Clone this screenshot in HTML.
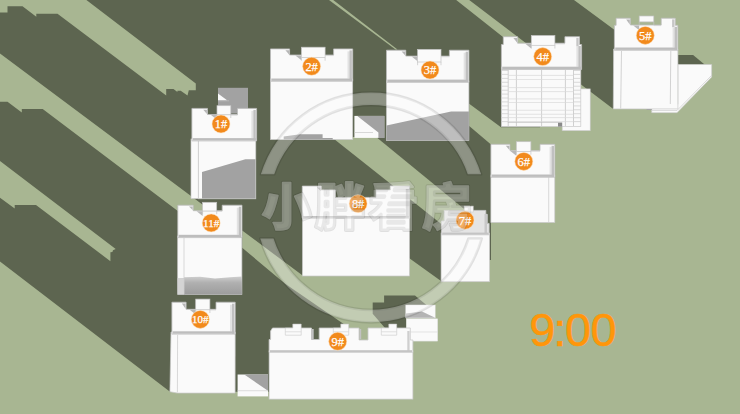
<!DOCTYPE html>
<html lang="zh"><head><meta charset="utf-8"><title>9:00</title>
<style>html,body{margin:0;padding:0;background:#5d6550;overflow:hidden}svg{display:block}</style></head>
<body><svg width="740" height="414" viewBox="0 0 740 414">
<rect width="740" height="414" fill="#5d6550"/>
<g id="ground">
<polygon points="0.0,0.0 86.4,0.0 195.8,83.5 195.8,90.2 188.8,90.2 187.5,95.6 180.7,90.7 177.4,90.7 177.4,92.0 173.5,88.9 166.2,88.9 166.2,95.4 57.5,13.7 36.3,13.7 36.3,16.7 22.5,6.2 7.5,6.2 7.5,12.5 0.0,12.5" fill="#a8b692" />
<polygon points="0.0,53.4 192.0,196.8 203.0,205.0 203.0,215.0 183.0,215.0 177.8,211.0 42.7,108.9 21.8,108.9 21.8,112.6 7.5,101.7 0.0,101.7" fill="#a8b692" />
<polygon points="0.0,160.9 115.7,249.1 113.0,250.3 112.4,252.0 110.4,252.3 110.4,261.2 36.0,205.0 14.7,205.0 14.7,208.6 0.0,197.8" fill="#a8b692" />
<polygon points="329.0,0.0 333.2,0.0 397.5,49.4 395.5,49.4" fill="#a8b692" />
<polygon points="456.2,0.0 469.2,0.0 535.0,50.0 515.0,50.0 503.0,37.0" fill="#a8b692" />
<polygon points="331.5,137.0 376.2,137.0 466.0,210.5 466.0,225.0 441.0,223.7" fill="#a8b692" />
<polygon points="574.0,0.0 740.0,0.0 740.0,414.0 0.0,414.0 0.0,261.5 170.0,391.7 300.0,391.7 343.7,330.0 343.7,323.9 284.8,283.6 242.2,247.7 242.2,230.4 302.0,275.1 302.7,270.0 409.0,270.0 409.0,258.0 441.0,281.0 441.0,260.0 491.0,260.0 491.0,144.4 469.2,125.9 469.2,103.8 501.0,127.2 540.0,127.2 540.0,100.0 581.0,84.5 613.3,108.9 616.0,100.0 616.0,31.1" fill="#a8b692" />
<polygon points="372.7,302.5 384.1,302.5 384.1,295.4 415.0,295.4 427.0,305.5 406.0,305.5 406.0,328.0 385.0,328.0 372.7,313.7" fill="#5d6550" />
<polygon points="677.9,55.1 693.1,55.1 704.6,64.5 677.9,64.5" fill="#5d6550" />
</g>
<g id="buildings">
<rect x="218.0" y="87.8" width="30.0" height="25.7" fill="#a2a2a2" />
<polygon points="218.0,93.5 227.1,100.3 218.0,100.3" fill="#fafafa" />
<line x1="218.0" y1="100.8" x2="229.0" y2="100.8" stroke="#c0c0c0" stroke-width="0.7" />
<rect x="191.0" y="139.0" width="7.3" height="59.6" fill="#fafafa" stroke="#c9c9c9" stroke-width="0.7"/>
<rect x="198.3" y="139.0" width="57.5" height="59.8" fill="#fafafa" stroke="#c9c9c9" stroke-width="0.7"/>
<polygon points="202.0,172.0 245.4,159.2 255.5,159.2 255.5,198.6 202.0,198.6" fill="#a2a2a2" />
<polygon points="191.9,140.9 191.9,108.4 207.5,108.4 207.5,114.5 237.5,114.5 237.5,108.4 256.6,108.4 256.6,140.9" fill="#fafafa" stroke="#bdbdbd" stroke-width="0.8"/>
<rect x="251.4" y="110.9" width="2.2" height="27.2" fill="#e2e2e2" />
<rect x="253.4" y="109.9" width="2.4" height="30.6" fill="#c0c0c0" />
<rect x="192.7" y="138.1" width="63.1" height="2.4" fill="#bdbdbd" />
<polygon points="203.3,109.8 206.9,109.8 206.9,113.9" fill="#b6b6b6" />
<polygon points="211.0,115.0 217.0,115.0 217.0,119.7" fill="#b8b8b8" />
<rect x="217.0" y="105.7" width="13.8" height="9.1" fill="#fafafa" stroke="#c4c4c4" stroke-width="0.7"/>
<line x1="217.0" y1="114.8" x2="217.0" y2="118.0" stroke="#c4c4c4" stroke-width="0.7" />
<line x1="230.8" y1="114.8" x2="230.8" y2="118.0" stroke="#c4c4c4" stroke-width="0.7" />
<line x1="237.5" y1="115.1" x2="230.8" y2="115.1" stroke="#cfcfcf" stroke-width="0.8" />
<rect x="270.5" y="79.0" width="82.2" height="60.6" fill="#fafafa" stroke="#c9c9c9" stroke-width="0.7"/>
<polygon points="283.7,139.6 283.7,136.5 300.0,134.2 322.6,134.2 322.6,138.0 332.7,138.0 332.7,139.6" fill="#a2a2a2" />
<polygon points="270.5,81.3 270.5,48.9 289.6,48.9 289.6,55.0 333.6,55.0 333.6,48.9 352.7,48.9 352.7,81.3" fill="#fafafa" stroke="#bdbdbd" stroke-width="0.8"/>
<rect x="347.5" y="51.4" width="2.2" height="27.1" fill="#e2e2e2" />
<rect x="349.5" y="50.4" width="2.4" height="30.5" fill="#c0c0c0" />
<rect x="271.3" y="78.5" width="80.6" height="2.4" fill="#bdbdbd" />
<polygon points="285.4,50.3 289.0,50.3 289.0,54.4" fill="#b6b6b6" />
<polygon points="295.4,55.5 301.4,55.5 301.4,60.2" fill="#b8b8b8" />
<rect x="301.4" y="47.2" width="23.7" height="10.3" fill="#fafafa" stroke="#c4c4c4" stroke-width="0.7"/>
<line x1="301.4" y1="57.5" x2="301.4" y2="60.7" stroke="#c4c4c4" stroke-width="0.7" />
<line x1="325.1" y1="57.5" x2="325.1" y2="60.7" stroke="#c4c4c4" stroke-width="0.7" />
<line x1="333.6" y1="55.6" x2="325.1" y2="55.6" stroke="#cfcfcf" stroke-width="0.8" />
<rect x="354.4" y="115.9" width="29.9" height="22.0" fill="#fafafa" />
<polygon points="357.3,115.9 384.3,115.9 384.3,137.9 378.4,137.9 378.4,132.5" fill="#a2a2a2" />
<line x1="354.4" y1="132.5" x2="373.0" y2="132.5" stroke="#c8c8c8" stroke-width="0.7" />
<rect x="386.5" y="81.0" width="82.4" height="59.6" fill="#fafafa" stroke="#c9c9c9" stroke-width="0.7"/>
<polygon points="386.5,125.4 451.1,111.4 468.9,111.4 468.9,140.6 386.5,140.6" fill="#a2a2a2" />
<polygon points="386.5,82.4 386.5,50.2 405.8,50.2 405.8,56.1 449.4,56.1 449.4,50.2 468.9,50.2 468.9,82.4" fill="#fafafa" stroke="#bdbdbd" stroke-width="0.8"/>
<rect x="463.7" y="52.7" width="2.2" height="26.9" fill="#e2e2e2" />
<rect x="465.7" y="51.7" width="2.4" height="30.3" fill="#c0c0c0" />
<rect x="387.3" y="79.6" width="80.8" height="2.4" fill="#bdbdbd" />
<polygon points="401.6,51.6 405.2,51.6 405.2,55.5" fill="#b6b6b6" />
<polygon points="411.6,56.6 417.6,56.6 417.6,61.3" fill="#b8b8b8" />
<rect x="417.6" y="49.4" width="23.4" height="12.6" fill="#fafafa" stroke="#c4c4c4" stroke-width="0.7"/>
<line x1="417.6" y1="62.0" x2="417.6" y2="65.2" stroke="#c4c4c4" stroke-width="0.7" />
<line x1="441.0" y1="62.0" x2="441.0" y2="65.2" stroke="#c4c4c4" stroke-width="0.7" />
<line x1="449.4" y1="56.7" x2="441.0" y2="56.7" stroke="#cfcfcf" stroke-width="0.8" />
<rect x="562.2" y="88.9" width="28.0" height="41.8" fill="#fafafa" stroke="#c9c9c9" stroke-width="0.6"/>
<rect x="501.4" y="67.0" width="79.4" height="59.6" fill="#fafafa" stroke="#c9c9c9" stroke-width="0.7"/>
<rect x="558.0" y="122.5" width="4.2" height="4.1" fill="#8a8a8a" />
<line x1="508.2" y1="70.0" x2="508.2" y2="126.0" stroke="#b4b4b4" stroke-width="0.6" />
<line x1="516.4" y1="70.0" x2="516.4" y2="126.0" stroke="#b4b4b4" stroke-width="0.6" />
<line x1="541.6" y1="70.0" x2="541.6" y2="126.0" stroke="#b4b4b4" stroke-width="0.6" />
<line x1="565.4" y1="70.0" x2="565.4" y2="126.0" stroke="#b4b4b4" stroke-width="0.6" />
<line x1="573.5" y1="70.0" x2="573.5" y2="126.0" stroke="#b4b4b4" stroke-width="0.6" />
<line x1="501.4" y1="70.5" x2="508.2" y2="70.5" stroke="#cccccc" stroke-width="0.7" />
<line x1="573.5" y1="70.5" x2="580.8" y2="70.5" stroke="#cccccc" stroke-width="0.7" />
<line x1="501.4" y1="74.4" x2="508.2" y2="74.4" stroke="#cccccc" stroke-width="0.7" />
<line x1="573.5" y1="74.4" x2="580.8" y2="74.4" stroke="#cccccc" stroke-width="0.7" />
<line x1="501.4" y1="78.4" x2="508.2" y2="78.4" stroke="#cccccc" stroke-width="0.7" />
<line x1="573.5" y1="78.4" x2="580.8" y2="78.4" stroke="#cccccc" stroke-width="0.7" />
<line x1="501.4" y1="82.3" x2="508.2" y2="82.3" stroke="#cccccc" stroke-width="0.7" />
<line x1="573.5" y1="82.3" x2="580.8" y2="82.3" stroke="#cccccc" stroke-width="0.7" />
<line x1="501.4" y1="86.2" x2="508.2" y2="86.2" stroke="#cccccc" stroke-width="0.7" />
<line x1="573.5" y1="86.2" x2="580.8" y2="86.2" stroke="#cccccc" stroke-width="0.7" />
<line x1="501.4" y1="90.2" x2="508.2" y2="90.2" stroke="#cccccc" stroke-width="0.7" />
<line x1="573.5" y1="90.2" x2="580.8" y2="90.2" stroke="#cccccc" stroke-width="0.7" />
<line x1="501.4" y1="94.1" x2="508.2" y2="94.1" stroke="#cccccc" stroke-width="0.7" />
<line x1="573.5" y1="94.1" x2="580.8" y2="94.1" stroke="#cccccc" stroke-width="0.7" />
<line x1="501.4" y1="98.0" x2="508.2" y2="98.0" stroke="#cccccc" stroke-width="0.7" />
<line x1="573.5" y1="98.0" x2="580.8" y2="98.0" stroke="#cccccc" stroke-width="0.7" />
<line x1="501.4" y1="101.9" x2="508.2" y2="101.9" stroke="#cccccc" stroke-width="0.7" />
<line x1="573.5" y1="101.9" x2="580.8" y2="101.9" stroke="#cccccc" stroke-width="0.7" />
<line x1="501.4" y1="105.9" x2="508.2" y2="105.9" stroke="#cccccc" stroke-width="0.7" />
<line x1="573.5" y1="105.9" x2="580.8" y2="105.9" stroke="#cccccc" stroke-width="0.7" />
<line x1="501.4" y1="109.8" x2="508.2" y2="109.8" stroke="#cccccc" stroke-width="0.7" />
<line x1="573.5" y1="109.8" x2="580.8" y2="109.8" stroke="#cccccc" stroke-width="0.7" />
<line x1="501.4" y1="113.7" x2="508.2" y2="113.7" stroke="#cccccc" stroke-width="0.7" />
<line x1="573.5" y1="113.7" x2="580.8" y2="113.7" stroke="#cccccc" stroke-width="0.7" />
<line x1="501.4" y1="117.7" x2="508.2" y2="117.7" stroke="#cccccc" stroke-width="0.7" />
<line x1="573.5" y1="117.7" x2="580.8" y2="117.7" stroke="#cccccc" stroke-width="0.7" />
<line x1="501.4" y1="121.6" x2="508.2" y2="121.6" stroke="#cccccc" stroke-width="0.7" />
<line x1="573.5" y1="121.6" x2="580.8" y2="121.6" stroke="#cccccc" stroke-width="0.7" />
<line x1="508.2" y1="75.4" x2="573.5" y2="75.4" stroke="#dadada" stroke-width="0.7" />
<line x1="508.2" y1="79.5" x2="573.5" y2="79.5" stroke="#dadada" stroke-width="0.7" />
<line x1="508.2" y1="87.6" x2="573.5" y2="87.6" stroke="#dadada" stroke-width="0.7" />
<line x1="508.2" y1="91.6" x2="573.5" y2="91.6" stroke="#dadada" stroke-width="0.7" />
<line x1="508.2" y1="98.9" x2="573.5" y2="98.9" stroke="#dadada" stroke-width="0.7" />
<line x1="508.2" y1="102.5" x2="573.5" y2="102.5" stroke="#dadada" stroke-width="0.7" />
<line x1="508.2" y1="110.3" x2="573.5" y2="110.3" stroke="#dadada" stroke-width="0.7" />
<line x1="508.2" y1="114.3" x2="573.5" y2="114.3" stroke="#dadada" stroke-width="0.7" />
<line x1="508.2" y1="117.6" x2="573.5" y2="117.6" stroke="#dadada" stroke-width="0.7" />
<line x1="508.2" y1="121.6" x2="573.5" y2="121.6" stroke="#dadada" stroke-width="0.7" />
<line x1="507.8" y1="122.4" x2="558.0" y2="122.4" stroke="#c0c0c0" stroke-width="0.7" />
<polygon points="501.4,69.5 501.4,44.5 503.3,44.5 503.3,36.7 517.6,36.7 517.6,43.2 564.9,43.2 564.9,36.7 579.5,36.7 579.5,44.5 581.6,44.5 581.6,69.5" fill="#fafafa" stroke="#bdbdbd" stroke-width="0.8"/>
<rect x="576.4" y="47.0" width="2.2" height="19.7" fill="#e2e2e2" />
<rect x="578.4" y="46.0" width="2.4" height="23.1" fill="#c0c0c0" />
<rect x="576.3" y="37.9" width="2.4" height="8.6" fill="#c6c6c6" />
<rect x="502.2" y="66.7" width="78.6" height="2.4" fill="#bdbdbd" />
<polygon points="513.4,38.1 517.0,38.1 517.0,42.6" fill="#b6b6b6" />
<polygon points="525.3,43.7 531.3,43.7 531.3,48.4" fill="#b8b8b8" />
<rect x="531.3" y="35.5" width="23.6" height="9.8" fill="#fafafa" stroke="#c4c4c4" stroke-width="0.7"/>
<line x1="531.3" y1="45.3" x2="531.3" y2="48.5" stroke="#c4c4c4" stroke-width="0.7" />
<line x1="554.9" y1="45.3" x2="554.9" y2="48.5" stroke="#c4c4c4" stroke-width="0.7" />
<line x1="564.9" y1="43.8" x2="554.9" y2="43.8" stroke="#cfcfcf" stroke-width="0.8" />
<polygon points="677.9,64.5 711.7,64.5 711.7,77.1 677.0,112.7 651.7,112.7 651.7,104.2 677.9,104.2" fill="#fafafa" stroke="#c9c9c9" stroke-width="0.6"/>
<line x1="711.7" y1="75.3" x2="677.0" y2="110.5" stroke="#cccccc" stroke-width="0.7" />
<line x1="651.7" y1="110.5" x2="677.0" y2="110.5" stroke="#d0d0d0" stroke-width="0.7" />
<rect x="646.6" y="105.0" width="5.1" height="5.0" fill="#9a9a9a" />
<polygon points="613.6,49.0 677.9,49.0 677.9,108.9 613.3,108.9" fill="#fafafa" stroke="#c9c9c9" stroke-width="0.7"/>
<line x1="621.5" y1="51.0" x2="620.7" y2="108.5" stroke="#c8c8c8" stroke-width="0.8" />
<line x1="670.8" y1="51.0" x2="670.3" y2="104.0" stroke="#c8c8c8" stroke-width="0.8" />
<polygon points="614.4,50.3 614.4,25.3 616.1,25.3 616.1,18.2 630.4,18.2 630.4,25.0 661.2,25.0 661.2,18.2 675.3,18.2 675.3,25.3 677.8,25.3 677.8,50.3" fill="#fafafa" stroke="#bdbdbd" stroke-width="0.8"/>
<rect x="672.6" y="27.8" width="2.2" height="19.7" fill="#e2e2e2" />
<rect x="674.6" y="26.8" width="2.4" height="23.1" fill="#c0c0c0" />
<rect x="672.1" y="19.4" width="2.4" height="7.9" fill="#c6c6c6" />
<rect x="615.2" y="47.5" width="61.8" height="2.4" fill="#bdbdbd" />
<polygon points="626.2,19.6 629.8,19.6 629.8,24.4" fill="#b6b6b6" />
<polygon points="633.2,25.5 639.2,25.5 639.2,30.2" fill="#b8b8b8" />
<rect x="639.2" y="16.0" width="14.6" height="5.9" fill="#fafafa" stroke="#c4c4c4" stroke-width="0.7"/>
<line x1="639.2" y1="21.9" x2="639.2" y2="25.1" stroke="#c4c4c4" stroke-width="0.7" />
<line x1="653.8" y1="21.9" x2="653.8" y2="25.1" stroke="#c4c4c4" stroke-width="0.7" />
<line x1="661.2" y1="25.6" x2="653.8" y2="25.6" stroke="#cfcfcf" stroke-width="0.8" />
<rect x="490.9" y="175.0" width="63.9" height="47.5" fill="#fafafa" stroke="#c9c9c9" stroke-width="0.7"/>
<line x1="548.7" y1="177.0" x2="548.7" y2="222.0" stroke="#cfcfcf" stroke-width="0.8" />
<polygon points="490.9,177.3 490.9,144.3 510.0,144.3 510.0,150.6 540.0,150.6 540.0,144.3 554.8,144.3 554.8,177.3" fill="#fafafa" stroke="#bdbdbd" stroke-width="0.8"/>
<rect x="549.6" y="146.8" width="2.2" height="27.7" fill="#e2e2e2" />
<rect x="551.6" y="145.8" width="2.4" height="31.1" fill="#c0c0c0" />
<rect x="491.7" y="174.5" width="62.3" height="2.4" fill="#bdbdbd" />
<polygon points="505.8,145.7 509.4,145.7 509.4,150.0" fill="#b6b6b6" />
<polygon points="510.3,151.1 516.3,151.1 516.3,155.8" fill="#b8b8b8" />
<rect x="516.3" y="141.7" width="14.6" height="9.8" fill="#fafafa" stroke="#c4c4c4" stroke-width="0.7"/>
<line x1="516.3" y1="151.5" x2="516.3" y2="154.7" stroke="#c4c4c4" stroke-width="0.7" />
<line x1="530.9" y1="151.5" x2="530.9" y2="154.7" stroke="#c4c4c4" stroke-width="0.7" />
<line x1="540.0" y1="151.2" x2="530.9" y2="151.2" stroke="#cfcfcf" stroke-width="0.8" />
<rect x="302.5" y="217.0" width="106.9" height="59.0" fill="#fafafa" stroke="#c9c9c9" stroke-width="0.7"/>
<polygon points="302.3,218.2 302.3,186.1 321.2,186.1 321.2,189.9 335.4,189.9 335.4,197.4 376.0,197.4 376.0,189.9 390.3,189.9 390.3,186.1 409.6,186.1 409.6,218.2" fill="#fafafa" stroke="#c9c9c9" stroke-width="0.8"/>
<rect x="405.8" y="189.0" width="3.0" height="28.5" fill="#cfcfcf" />
<rect x="303.3" y="216.0" width="105.5" height="1.8" fill="#c4c4c4" />
<polygon points="317.0,187.6 320.6,187.6 320.6,191.0" fill="#bdbdbd" />
<rect x="441.1" y="233.0" width="48.5" height="48.7" fill="#fafafa" stroke="#c9c9c9" stroke-width="0.7"/>
<polygon points="441.5,234.8 441.5,221.0 444.2,221.0 444.2,210.4 485.8,210.4 485.8,214.3 487.3,214.3 487.3,223.4 489.1,223.4 489.1,234.8" fill="#e4e4e4" stroke="#c9c9c9" stroke-width="0.8"/>
<rect x="484.5" y="214.0" width="2.5" height="20.0" fill="#c8c8c8" />
<rect x="442.3" y="232.6" width="46.2" height="1.9" fill="#c4c4c4" />
<rect x="464.2" y="206.1" width="9.0" height="5.9" fill="#fafafa" stroke="#c9c9c9" stroke-width="0.6"/>
<rect x="177.7" y="236.0" width="64.2" height="58.5" fill="#fafafa" stroke="#c9c9c9" stroke-width="0.7"/>
<defs><linearGradient id="g11" x1="0" y1="0" x2="0" y2="1"><stop offset="0" stop-color="#cfcfcf"/><stop offset="0.35" stop-color="#b0b0b0"/><stop offset="1" stop-color="#9c9c9c"/></linearGradient></defs>
<polygon points="177.7,278.5 184.0,278.0 184.0,277.2 200.0,276.8 215.0,278.4 230.0,277.2 241.9,276.4 241.9,294.5 177.7,294.5" fill="url(#g11)" />
<rect x="177.7" y="278.3" width="6.3" height="16.2" fill="#d4d4d4" />
<line x1="184.0" y1="238.0" x2="184.0" y2="294.0" stroke="#cfcfcf" stroke-width="0.8" />
<polygon points="177.8,237.6 177.8,205.2 193.2,205.2 193.2,210.7 222.2,210.7 222.2,205.2 242.0,205.2 242.0,237.6" fill="#fafafa" stroke="#bdbdbd" stroke-width="0.8"/>
<rect x="236.8" y="207.7" width="2.2" height="27.1" fill="#e2e2e2" />
<rect x="238.8" y="206.7" width="2.4" height="30.5" fill="#c0c0c0" />
<rect x="178.6" y="234.8" width="62.6" height="2.4" fill="#bdbdbd" />
<polygon points="189.0,206.6 192.6,206.6 192.6,210.1" fill="#b6b6b6" />
<polygon points="196.6,211.2 202.6,211.2 202.6,215.9" fill="#b8b8b8" />
<rect x="202.6" y="202.3" width="14.1" height="8.7" fill="#fafafa" stroke="#c4c4c4" stroke-width="0.7"/>
<line x1="202.6" y1="211.0" x2="202.6" y2="214.2" stroke="#c4c4c4" stroke-width="0.7" />
<line x1="216.7" y1="211.0" x2="216.7" y2="214.2" stroke="#c4c4c4" stroke-width="0.7" />
<line x1="222.2" y1="211.3" x2="216.7" y2="211.3" stroke="#cfcfcf" stroke-width="0.8" />
<polygon points="171.0,332.0 235.2,332.0 235.1,393.1 177.4,393.1 169.9,391.7" fill="#fafafa" stroke="#c9c9c9" stroke-width="0.7"/>
<line x1="177.6" y1="335.0" x2="177.4" y2="392.5" stroke="#cfcfcf" stroke-width="0.8" />
<polygon points="171.9,334.1 171.9,302.2 186.1,302.2 186.1,309.3 216.0,309.3 216.0,302.2 235.2,302.2 235.2,334.1" fill="#fafafa" stroke="#bdbdbd" stroke-width="0.8"/>
<rect x="230.0" y="304.7" width="2.2" height="26.6" fill="#e2e2e2" />
<rect x="232.0" y="303.7" width="2.4" height="30.0" fill="#c0c0c0" />
<rect x="172.7" y="331.3" width="61.7" height="2.4" fill="#bdbdbd" />
<polygon points="181.9,303.6 185.5,303.6 185.5,308.7" fill="#b6b6b6" />
<polygon points="189.7,309.8 195.7,309.8 195.7,314.5" fill="#b8b8b8" />
<rect x="195.7" y="299.1" width="14.2" height="10.7" fill="#fafafa" stroke="#c4c4c4" stroke-width="0.7"/>
<line x1="195.7" y1="309.8" x2="195.7" y2="313.0" stroke="#c4c4c4" stroke-width="0.7" />
<line x1="209.9" y1="309.8" x2="209.9" y2="313.0" stroke="#c4c4c4" stroke-width="0.7" />
<line x1="216.0" y1="309.9" x2="209.9" y2="309.9" stroke="#cfcfcf" stroke-width="0.8" />
<rect x="237.6" y="374.5" width="30.4" height="21.9" fill="#fafafa" />
<polygon points="244.3,374.5 268.0,374.5 268.0,390.7" fill="#a2a2a2" />
<line x1="237.6" y1="390.7" x2="268.0" y2="390.7" stroke="#d0d0d0" stroke-width="0.7" />
<rect x="405.8" y="305.0" width="29.4" height="13.0" fill="#fafafa" stroke="#dddddd" stroke-width="0.5"/>
<polygon points="405.8,313.5 422.0,311.5 435.2,317.8 405.8,317.8" fill="#b4b4b4" />
<rect x="406.4" y="318.8" width="31.3" height="22.3" fill="#fafafa" stroke="#dddddd" stroke-width="0.5"/>
<line x1="406.4" y1="332.0" x2="437.7" y2="332.0" stroke="#d8d8d8" stroke-width="0.7" />
<rect x="269.1" y="351.0" width="143.8" height="48.1" fill="#fafafa" stroke="#c9c9c9" stroke-width="0.7"/>
<polygon points="269.1,352.4 269.1,339.5 270.6,339.5 270.6,331.0 272.5,328.0 311.5,328.0 311.5,339.5 319.2,339.5 319.2,328.0 359.0,328.0 359.0,340.0 368.0,340.0 368.0,328.0 410.3,328.0 410.3,340.0 412.9,340.0 412.9,352.4" fill="#fafafa" stroke="#c9c9c9" stroke-width="0.8"/>
<rect x="407.3" y="331.0" width="2.3" height="20.5" fill="#cfcfcf" />
<rect x="270.0" y="350.2" width="142.0" height="1.9" fill="#c4c4c4" />
<polygon points="285.3,335.2 285.3,328.0 292.8,328.0 292.8,324.1 301.2,324.1 301.2,335.2" fill="#fafafa" stroke="#c9c9c9" stroke-width="0.6"/>
<line x1="285.3" y1="331.8" x2="301.2" y2="331.8" stroke="#d4d4d4" stroke-width="0.7" />
<polygon points="333.3,335.2 333.3,328.0 340.8,328.0 340.8,324.1 348.7,324.1 348.7,335.2" fill="#fafafa" stroke="#c9c9c9" stroke-width="0.6"/>
<line x1="333.3" y1="331.8" x2="348.7" y2="331.8" stroke="#d4d4d4" stroke-width="0.7" />
<polygon points="381.3,335.2 381.3,328.0 388.8,328.0 388.8,324.1 396.7,324.1 396.7,335.2" fill="#fafafa" stroke="#c9c9c9" stroke-width="0.6"/>
<line x1="381.3" y1="331.8" x2="396.7" y2="331.8" stroke="#d4d4d4" stroke-width="0.7" />
<rect x="311.8" y="329.0" width="1.9" height="10.2" fill="#c2c2c2" />
<rect x="359.3" y="329.0" width="1.9" height="10.2" fill="#c2c2c2" />
</g>
<g id="labels">
<circle cx="221.0" cy="124.0" r="9.0" fill="#f28a1c" stroke="rgba(255,225,190,0.5)" stroke-width="1"/>
<text x="221.0" y="128.4" text-anchor="middle" font-family="'Liberation Serif',serif" font-size="13.2" fill="#fff" stroke="#fff" stroke-width="0.25" textLength="12.4" lengthAdjust="spacingAndGlyphs">1#</text>
<circle cx="311.6" cy="66.3" r="9.0" fill="#f28a1c" stroke="rgba(255,225,190,0.5)" stroke-width="1"/>
<text x="311.6" y="70.7" text-anchor="middle" font-family="'Liberation Serif',serif" font-size="13.2" fill="#fff" stroke="#fff" stroke-width="0.25" textLength="12.4" lengthAdjust="spacingAndGlyphs">2#</text>
<circle cx="430.0" cy="70.0" r="9.0" fill="#f28a1c" stroke="rgba(255,225,190,0.5)" stroke-width="1"/>
<text x="430.0" y="74.4" text-anchor="middle" font-family="'Liberation Serif',serif" font-size="13.2" fill="#fff" stroke="#fff" stroke-width="0.25" textLength="12.4" lengthAdjust="spacingAndGlyphs">3#</text>
<circle cx="542.7" cy="56.6" r="9.0" fill="#f28a1c" stroke="rgba(255,225,190,0.5)" stroke-width="1"/>
<text x="542.7" y="61.0" text-anchor="middle" font-family="'Liberation Serif',serif" font-size="13.2" fill="#fff" stroke="#fff" stroke-width="0.25" textLength="12.4" lengthAdjust="spacingAndGlyphs">4#</text>
<circle cx="645.3" cy="35.4" r="9.0" fill="#f28a1c" stroke="rgba(255,225,190,0.5)" stroke-width="1"/>
<text x="645.3" y="39.8" text-anchor="middle" font-family="'Liberation Serif',serif" font-size="13.2" fill="#fff" stroke="#fff" stroke-width="0.25" textLength="12.4" lengthAdjust="spacingAndGlyphs">5#</text>
<circle cx="523.8" cy="161.4" r="9.0" fill="#f28a1c" stroke="rgba(255,225,190,0.5)" stroke-width="1"/>
<text x="523.8" y="165.8" text-anchor="middle" font-family="'Liberation Serif',serif" font-size="13.2" fill="#fff" stroke="#fff" stroke-width="0.25" textLength="12.4" lengthAdjust="spacingAndGlyphs">6#</text>
<circle cx="358.1" cy="203.7" r="9.0" fill="#f28a1c" stroke="rgba(255,225,190,0.5)" stroke-width="1"/>
<text x="358.1" y="208.1" text-anchor="middle" font-family="'Liberation Serif',serif" font-size="13.2" fill="#fff" stroke="#fff" stroke-width="0.25" textLength="12.4" lengthAdjust="spacingAndGlyphs">8#</text>
<circle cx="465.0" cy="220.2" r="9.0" fill="#f28a1c" stroke="rgba(255,225,190,0.5)" stroke-width="1"/>
<text x="465.0" y="224.6" text-anchor="middle" font-family="'Liberation Serif',serif" font-size="13.2" fill="#fff" stroke="#fff" stroke-width="0.25" textLength="12.4" lengthAdjust="spacingAndGlyphs">7#</text>
<circle cx="211.2" cy="222.9" r="9.0" fill="#f28a1c" stroke="rgba(255,225,190,0.5)" stroke-width="1"/>
<text x="211.2" y="226.6" text-anchor="middle" font-family="'Liberation Serif',serif" font-size="11" fill="#fff" stroke="#fff" stroke-width="0.25" textLength="16.4" lengthAdjust="spacingAndGlyphs">11#</text>
<circle cx="200.3" cy="319.4" r="9.0" fill="#f28a1c" stroke="rgba(255,225,190,0.5)" stroke-width="1"/>
<text x="200.3" y="323.1" text-anchor="middle" font-family="'Liberation Serif',serif" font-size="11" fill="#fff" stroke="#fff" stroke-width="0.25" textLength="16.4" lengthAdjust="spacingAndGlyphs">10#</text>
<circle cx="337.7" cy="341.3" r="9.0" fill="#f28a1c" stroke="rgba(255,225,190,0.5)" stroke-width="1"/>
<text x="337.7" y="345.7" text-anchor="middle" font-family="'Liberation Serif',serif" font-size="13.2" fill="#fff" stroke="#fff" stroke-width="0.25" textLength="12.4" lengthAdjust="spacingAndGlyphs">9#</text>
</g>
<g font-family="'Liberation Sans',sans-serif" font-size="46.8" fill="#ff960a" stroke="#ff960a" stroke-width="0.5"><text x="529.2" y="345.9">9</text><text x="553.3" y="345.9">:</text><text x="565" y="345.9">0</text><text x="590.6" y="345.9">0</text></g>
<g id="wm-edge" opacity="0.10" fill="none" stroke="#000" stroke-linejoin="round">
<path d="M260.9,174.3 A115,115 0 0 1 481.1,174.3 L467.8,174.3 A102.3,102.3 0 0 0 274.2,174.3 Z M260.3,238.5 A115,115 0 0 0 481.7,238.5 L468.5,238.5 A102.3,102.3 0 0 1 273.5,238.5 Z" stroke-width="2.6"/>
<text x="261.5" y="224.5" font-family="'Liberation Sans','Noto Sans CJK SC',sans-serif" font-weight="900" font-size="50" stroke-width="3.4">小</text><text x="315" y="224.5" font-family="'Liberation Sans','Noto Sans CJK SC',sans-serif" font-weight="900" font-size="50" stroke-width="3.4">胖</text><text x="368.5" y="224.5" font-family="'Liberation Sans','Noto Sans CJK SC',sans-serif" font-weight="900" font-size="50" stroke-width="3.4">看</text><text x="422" y="224.5" font-family="'Liberation Sans','Noto Sans CJK SC',sans-serif" font-weight="900" font-size="50" stroke-width="3.4">房</text>
</g>
<g id="wm" opacity="0.30" fill="#fff" stroke="#fff" stroke-linejoin="round">
<path d="M260.9,174.3 A115,115 0 0 1 481.1,174.3 L467.8,174.3 A102.3,102.3 0 0 0 274.2,174.3 Z M260.3,238.5 A115,115 0 0 0 481.7,238.5 L468.5,238.5 A102.3,102.3 0 0 1 273.5,238.5 Z" stroke="none"/>
<text x="261.5" y="224.5" font-family="'Liberation Sans','Noto Sans CJK SC',sans-serif" font-weight="900" font-size="50" stroke-width="1.6">小</text><text x="315" y="224.5" font-family="'Liberation Sans','Noto Sans CJK SC',sans-serif" font-weight="900" font-size="50" stroke-width="1.6">胖</text><text x="368.5" y="224.5" font-family="'Liberation Sans','Noto Sans CJK SC',sans-serif" font-weight="900" font-size="50" stroke-width="1.6">看</text><text x="422" y="224.5" font-family="'Liberation Sans','Noto Sans CJK SC',sans-serif" font-weight="900" font-size="50" stroke-width="1.6">房</text>
</g>
</svg></body></html>
